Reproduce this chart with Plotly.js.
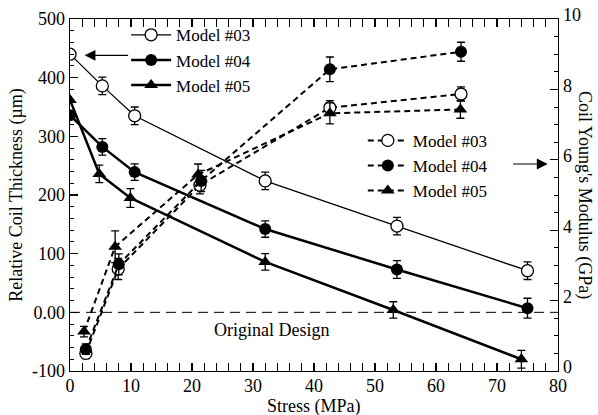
<!DOCTYPE html>
<html>
<head>
<meta charset="utf-8">
<script src="https://cdn.plot.ly/plotly-3.0.1.min.js"></script>
<style>html,body{margin:0;padding:0;background:#fff;}#chart{width:598px;height:415px;}</style>
</head>
<body>
<div id="chart"></div>
<script>
// Left axis: Relative Coil Thickness (µm)
const stress03 = [0, 5.3, 10.6, 32, 53.6, 75];
const thick03 = [440, 386, 335, 224, 147, 71];
const thickErr03 = [0, 15, 15, 15, 15, 15];

const stress04 = [0, 5.3, 10.6, 32, 53.6, 75];
const thick04 = [336, 282, 239, 142, 73, 7];
const thickErr04 = [0, 14, 14, 14, 15, 17];

const stress05 = [0, 4.8, 9.9, 32, 53, 74];
const thick05 = [362, 236, 195, 86, 4, -80];
const thickErr05 = [0, 15, 16, 14, 14, 15];

// Right axis: Coil Young's Modulus (GPa)
const stressE03 = [2.6, 7.9, 21.3, 42.6, 64.1];
const mod03 = [0.50, 2.9, 5.28, 7.48, 7.87];
const modErr03 = [0.15, 0.3, 0.25, 0.2, 0.2];

const stressE04 = [2.6, 8.0, 21.5, 42.6, 64.1];
const mod04 = [0.62, 3.03, 5.4, 8.57, 9.07];
const modErr04 = [0.15, 0.3, 0.3, 0.35, 0.27];

const stressE05 = [2.3, 7.4, 21, 42.6, 64];
const mod05 = [1.12, 3.53, 5.58, 7.32, 7.43];
const modErr05 = [0.15, 0.45, 0.3, 0.3, 0.25];

const leftTickVals = [-100, 0, 100, 200, 300, 400, 500];
const leftTickText = ['-100', '0.00', '100', '200', '300', '400', '500'];
const rightTickVals = [0, 2, 4, 6, 8, 10];

const FONT = 'Liberation Serif, Times New Roman, DejaVu Serif, Liberation Sans, sans-serif';
const FS = 18;

function errY(arr) {
  return {type: 'data', array: arr, visible: true, color: 'black', thickness: 1.3, width: 4};
}

const traces = [
  {x: stress03, y: thick03, error_y: errY(thickErr03), name: 'Model #03', mode: 'lines+markers',
   line: {color: 'black', width: 1.3}, marker: {symbol: 'circle', size: 12, color: 'white', line: {color: 'black', width: 1.3}},
   legend: 'legend'},
  {x: stress04, y: thick04, error_y: errY(thickErr04), name: 'Model #04', mode: 'lines+markers',
   line: {color: 'black', width: 2.5}, marker: {symbol: 'circle', size: 12, color: 'black'},
   legend: 'legend'},
  {x: stress05, y: thick05, error_y: errY(thickErr05), name: 'Model #05', mode: 'lines+markers',
   line: {color: 'black', width: 2.5}, marker: {symbol: 'triangle-up', size: 12, color: 'black'},
   legend: 'legend'},
  {x: stressE03, y: mod03, error_y: errY(modErr03), name: 'Model #03', mode: 'lines+markers', yaxis: 'y2',
   line: {color: 'black', width: 2, dash: '6px,4px'}, marker: {symbol: 'circle', size: 12, color: 'white', line: {color: 'black', width: 1.3}},
   legend: 'legend2'},
  {x: stressE04, y: mod04, error_y: errY(modErr04), name: 'Model #04', mode: 'lines+markers', yaxis: 'y2',
   line: {color: 'black', width: 2, dash: '6px,4px'}, marker: {symbol: 'circle', size: 12, color: 'black'},
   legend: 'legend2'},
  {x: stressE05, y: mod05, error_y: errY(modErr05), name: 'Model #05', mode: 'lines+markers', yaxis: 'y2',
   line: {color: 'black', width: 2, dash: '6px,4px'}, marker: {symbol: 'triangle-up', size: 12, color: 'black'},
   legend: 'legend2'}
];

const layout = {
  width: 598, height: 415,
  margin: {l: 70, r: 40, t: 19, b: 44},
  paper_bgcolor: 'white', plot_bgcolor: 'white',
  font: {family: FONT, size: FS, color: 'black'},
  showlegend: true,
  xaxis: {
    range: [0, 80], dtick: 10, tick0: 0, showgrid: false, zeroline: false,
    showline: true, linecolor: 'black', linewidth: 1.3, mirror: 'allticks',
    ticks: 'inside', ticklen: 8, tickwidth: 1.3, tickcolor: 'black', ticklabelstandoff: -2,
    minor: {dtick: 2, ticks: 'inside', ticklen: 4, tickwidth: 1, tickcolor: 'black'},
    tickfont: {size: FS, family: FONT}
  },
  yaxis: {
    range: [-100, 500], tickvals: leftTickVals, ticktext: leftTickText, showgrid: false, zeroline: false,
    showline: true, linecolor: 'black', linewidth: 1.3,
    ticks: 'inside', ticklen: 8, tickwidth: 1.3, tickcolor: 'black',
    minor: {dtick: 20, tick0: 0, ticks: 'inside', ticklen: 4, tickwidth: 1, tickcolor: 'black'},
    tickfont: {size: FS, family: FONT},
    title: {text: 'Relative Coil Thickness (µm)', font: {size: FS, family: FONT}, standoff: 4}
  },
  yaxis2: {
    range: [0, 10], tickvals: rightTickVals, overlaying: 'y', side: 'right', showgrid: false, zeroline: false,
    showline: true, linecolor: 'black', linewidth: 1.3,
    ticks: 'inside', ticklen: 8, tickwidth: 1.3, tickcolor: 'black', ticklabelshift: -4,
    minor: {dtick: 0.5, tick0: 0, ticks: 'inside', ticklen: 4, tickwidth: 1, tickcolor: 'black'},
    tickfont: {size: FS, family: FONT}
  },
  legend: {
    x: 0.115, y: 1.005, xanchor: 'left', yanchor: 'top', bgcolor: 'rgba(0,0,0,0)',
    font: {size: 17, family: FONT}, tracegroupgap: 0, itemwidth: 40
  },
  legend2: {
    x: 0.6, y: 0.705, xanchor: 'left', yanchor: 'top', bgcolor: 'rgba(0,0,0,0)',
    font: {size: 17, family: FONT}, tracegroupgap: 0, itemwidth: 40
  },
  shapes: [
    {type: 'line', xref: 'paper', x0: 0, x1: 1, yref: 'y', y0: 0, y1: 0,
     line: {color: 'black', width: 1, dash: '10px,6px'}}
  ],
  annotations: [
    {text: 'Stress (MPa)', xref: 'paper', yref: 'paper', x: 0.5, y: 0, xanchor: 'center', yanchor: 'top',
     yshift: -24, showarrow: false, borderpad: 0, font: {size: FS, family: FONT}},
    {text: 'Original Design', x: 33, y: -30, xref: 'x', yref: 'y', showarrow: false,
     font: {size: FS, family: FONT}},
    {text: "Coil Young's Modulus (GPa)", textangle: 90, xref: 'paper', yref: 'paper',
     x: 1, y: 0.5, xanchor: 'center', yanchor: 'middle', xshift: 27, showarrow: false,
     font: {size: FS, family: FONT}},
    {text: '', x: 2.4, y: 438, xref: 'x', yref: 'y', showarrow: true, ax: 45, ay: 0,
     arrowhead: 2, arrowsize: 1.8, arrowwidth: 1.2, arrowcolor: 'black'},
    {text: '', x: 78.3, y: 5.88, xref: 'x', yref: 'y2', showarrow: true, ax: -36, ay: 0,
     arrowhead: 2, arrowsize: 1.8, arrowwidth: 1.2, arrowcolor: 'black'}
  ]
};

Plotly.newPlot('chart', traces, layout, {displayModeBar: false, staticPlot: true});
</script>
</body>
</html>
